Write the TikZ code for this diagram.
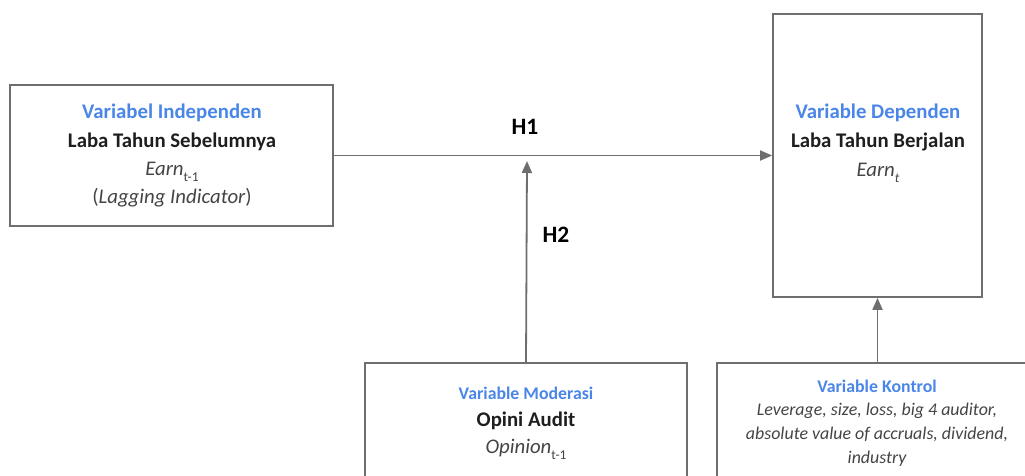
\documentclass[tikz,border=0pt]{standalone}
\usepackage{fontspec}
\setmainfont{Carlito}
\usetikzlibrary{arrows.meta}
\definecolor{vblue}{HTML}{4A86E8}
\definecolor{lgray}{HTML}{6E6E6E}
\definecolor{tdark}{HTML}{1E1E1E}
\definecolor{titl}{HTML}{444444}
\newcommand{\lowsub}[1]{\raisebox{-0.32em}{\fontsize{13.5}{15}\selectfont #1}}
\tikzset{
  varbox/.style={draw=lgray, line width=1.7pt, fill=none, inner sep=0pt},
  conn/.style={draw=lgray, line width=1.8pt, -{Triangle[length=12pt,width=10pt]}},
  vhead/.style={text=vblue, font=\fontsize{20.8}{24}\selectfont\bfseries},
  vshead/.style={text=vblue, font=\fontsize{17.8}{21}\selectfont\bfseries},
  vname/.style={text=tdark, font=\fontsize{20.8}{24}\selectfont\bfseries},
  vital/.style={text=titl, font=\fontsize{20.8}{24}\selectfont\itshape},
  vsital/.style={text=titl, font=\fontsize{17.9}{22}\selectfont\itshape},
  hlab/.style={text=black, font=\fontsize{23.5}{27}\selectfont\bfseries},
}
\begin{document}
\begin{tikzpicture}[x=1pt,y=-1pt]
\useasboundingbox (0,0) rectangle (1025,475);
\clip (0,0) rectangle (1025,475);
% boxes
\node[varbox, minimum width=323pt, minimum height=141pt] (indep) at (171.5,155.5) {};
\node[varbox, minimum width=209pt, minimum height=283pt] (dep) at (877.5,155.5) {};
\node[varbox, minimum width=322pt, minimum height=160pt] (mod) at (526,443) {};
\node[varbox, minimum width=322pt, minimum height=160pt] (ctrl) at (878,443) {};
% independent text
\node[vhead] (t1) at (172,113) {Variabel Independen};
\node[vname] (t2) at (172,142) {Laba Tahun Sebelumnya};
\node[vital, anchor=base] (t3) at (172,175) {Earn\lowsub{\upshape t-1}};
\node[vital] (t4) at (172,198) {\upshape(\itshape Lagging Indicator\upshape)};
% dependent text
\node[vhead] (d1) at (878,113) {Variable Dependen};
\node[vname] (d2) at (878,142) {Laba Tahun Berjalan};
\node[vital, anchor=base] (d3) at (878,176) {Earn\lowsub{t}};
% moderation text
\node[vshead] (m1) at (526,393) {Variable Moderasi};
\node[vname] (m2) at (526,421) {Opini Audit};
\node[vital, anchor=base] (m3) at (526,453) {Opinion\lowsub{\upshape t-1}};
% control text
\node[vshead] (c1) at (877,386) {Variable Kontrol};
\node[vsital, align=center] (c2) at (877,435) {Leverage, size, loss, big 4 auditor,\\[2pt]absolute value of accruals, dividend,\\[2pt]industry};
% connectors
\coordinate (h2end) at (527,161);
\draw[conn] (indep.east) -- (dep.west);
\draw[conn] (mod.north) -- (h2end);
\draw[conn] (ctrl.north -| dep.south) -- (dep.south);
% labels
\node[hlab] (h1) at (525,127) {H1};
\node[hlab] (h2) at (556,235) {H2};
\end{tikzpicture}
\end{document}
